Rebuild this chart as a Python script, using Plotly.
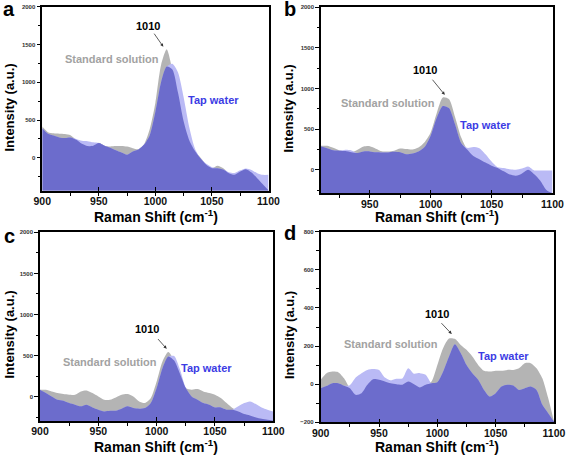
import numpy as np
import plotly.graph_objects as go

# ---------------- data ----------------
shift_a = [900, 905, 910, 915, 920, 925, 930, 935, 940, 945, 950, 955, 960, 965, 970, 975, 980, 985, 990, 995,
           1000, 1005, 1010, 1015, 1020, 1025, 1030, 1035, 1040, 1045, 1050, 1055, 1060, 1065, 1070, 1075, 1080,
           1085, 1090, 1095, 1100]
standard_a = [413, 340, 326, 320, 317, 300, 238, 185, 155, 160, 200, 160, 150, 155, 158, 150, 128, 115, 180, 380,
              730, 1230, 1436, 1170, 860, 480, 230, 90, 0, -92, -137, -106, -137, -203, -225, -181, -150,
              -194, -269, -348, -430]
tap_a = [392, 320, 295, 270, 262, 270, 250, 225, 220, 205, 195, 160, 135, 100, 70, 40, 83, 110, 175, 300,
         610, 1000, 1207, 1245, 1130, 800, 400, 120, -10, -80, -125, -137, -155, -190, -200, -165, -140,
         -160, -203, -225, -225]

shift_b = [910, 915, 920, 925, 930, 935, 940, 945, 950, 955, 960, 965, 970, 975, 980, 985, 990, 995,
           1000, 1005, 1010, 1015, 1020, 1025, 1030, 1035, 1040, 1045, 1050, 1055, 1060, 1065, 1070, 1075, 1080,
           1085, 1090, 1095, 1100]
standard_b = [295, 295, 270, 240, 230, 215, 246, 285, 290, 260, 228, 225, 235, 262, 255, 250, 275, 340,
              460, 700, 890, 870, 650, 400, 250, 170, 130, 88, 50, 22, -20, -60, -74, -45, 0,
              -55, -135, -250, -290]
tap_b = [285, 265, 240, 235, 245, 238, 205, 225, 225, 215, 213, 213, 222, 215, 190, 200, 225, 280,
         420, 640, 785, 760, 560, 330, 270, 280, 265, 190, 100, 30, 20, 5, 0, 15, 40,
         -8, -8, -8, -8]

shift_c = shift_a
standard_c = [85, 85, 65, 45, 32, 24, 24, 65, 77, 45, 4, -36, -36, -8, 24, 32, 4, -57, -77, -16,
              186, 429, 543, 440, 280, 105, 85, 93, 65, 45, 24, -16, -77, -138, -178, -210, -227,
              -251, -267, -279, -291]
tap_c = [85, 45, 4, -36, -49, -77, -97, -117, -97, -130, -158, -178, -170, -170, -146, -117, -138, -146, -138, -77,
         105, 348, 490, 495, 330, 105, 4, -36, -77, -97, -130, -130, -158, -158, -117, -77, -57,
         -89, -130, -158, -178]

shift_d = shift_a
standard_d = [23, 58, 66, 63, 31, -21, -56, -47, -3, 26, 23, 14, 5, 0, -3, 14, 0, -17, -3, 14,
              100, 190, 240, 238, 206, 180, 145, 101, 70, 66, 70, 70, 75, 75, 84, 110, 110,
              84, 31, -73, -196]
tap_d = [-21, -10, 5, 5, -8, -5, 35, 58, 75, 80, 75, 35, 20, 28, 30, 84, 55, 58, 49, 5,
         10, 66, 145, 210, 164, 101, 58, 23, -30, -65, -47, -12, -3, -7, -30, -21, -12,
         -30, -108, -152, -196]

peak_label = 1010

# ---------------- style ----------------
W, H = 567, 457
FONT = "Arial, Liberation Sans, sans-serif"
GRAY = "#b4b4b4"
LIGHT = "#babaf5"
DARK = "#6c6ccc"
STD_TXT = "#a2a2a2"
TAP_TXT = "#3c3ce4"


def px_x(p):
    return p / W


def px_y(p):
    return 1 - p / H


panels = [
    dict(s="", x=shift_a, std=standard_a, tap=tap_a, xr=[900, 1100], yr=[-435, 2000], dt=500,
         xd=(42.3, 268.5), yd=(6.7, 190.7), letter="a", lp=(9, 9),
         lab=(993.5, 1742), tail=(998, 1663), head=(1007, 1470), stdp=(962, 1303), tapp=(1051, 766),
         ytitle=(8.5, 108), xtitle=(155.5, 216.5)),
    dict(s="2", x=shift_b, std=standard_b, tap=tap_b, xr=[910, 1100], yr=[-290, 2000], dt=500,
         xd=(321, 552.5), yd=(7.3, 193.3), letter="b", lp=(290, 9),
         lab=(995, 1229), tail=(1000.5, 1127), head=(1011.6, 922), stdp=(964.7, 819), tapp=(1044.6, 553),
         ytitle=(288.5, 109), xtitle=(437, 216.5)),
    dict(s="3", x=shift_c, std=standard_c, tap=tap_c, xr=[900, 1100], yr=[-295, 2000], dt=500,
         xd=(40, 273.3), yd=(232.3, 421), letter="c", lp=(9, 236),
         lab=(991.4, 825), tail=(1000, 720), head=(1008.6, 583), stdp=(960, 428), tapp=(1043, 348),
         ytitle=(8.5, 335), xtitle=(155.5, 446)),
    dict(s="4", x=shift_d, std=standard_d, tap=tap_d, xr=[900, 1100], yr=[-200, 800], dt=200,
         xd=(320.7, 554), yd=(231.7, 422.3), letter="d", lp=(290, 233),
         lab=(999.4, 368), tail=(1002.3, 328), head=(1012.3, 263), stdp=(960.6, 211), tapp=(1056.6, 150),
         ytitle=(289, 335), xtitle=(437, 446)),
]

fig = go.Figure()
annotations = []
layout = {}

for p in panels:
    s = p["s"]
    xa, ya = "x" + s, "y" + s
    x = p["x"]
    ymin = p["yr"][0]
    base = [ymin] * len(x)
    low = np.minimum(np.array(p["std"]), np.array(p["tap"])).tolist()
    for yvals, col in [(p["std"], GRAY), (p["tap"], LIGHT), (low, DARK)]:
        fig.add_trace(go.Scatter(x=x, y=base, mode="lines", line=dict(width=0), xaxis=xa, yaxis=ya,
                                 hoverinfo="skip", showlegend=False))
        fig.add_trace(go.Scatter(x=x, y=yvals, mode="lines",
                                 line=dict(width=0, shape="spline", smoothing=0.7),
                                 fill="tonexty", fillcolor=col, xaxis=xa, yaxis=ya,
                                 hoverinfo="skip", showlegend=False))

    xkey = "xaxis" + s
    ykey = "yaxis" + s
    layout[xkey] = dict(
        domain=[px_x(p["xd"][0]), px_x(p["xd"][1])], anchor=ya, range=p["xr"], automargin=False,
        showline=True, linecolor="black", linewidth=1.6, mirror=True,
        ticks="inside", ticklen=4, tickwidth=1, tickcolor="black",
        tick0=900, dtick=50, showgrid=False, zeroline=False,
        minor=dict(ticks="outside", ticklen=3, tickwidth=1, tickcolor="black", dtick=25, tick0=900),
        tickfont=dict(family=FONT, size=10.5, color="#111", weight="bold"),
    )
    layout[ykey] = dict(
        domain=[px_y(p["yd"][1]), px_y(p["yd"][0])], anchor=xa, range=p["yr"], automargin=False,
        showline=True, linecolor="black", linewidth=1.6, mirror=True,
        ticks="outside", ticklen=4, tickwidth=1, tickcolor="black",
        tick0=0, dtick=p["dt"], showgrid=False, zeroline=False,
        minor=dict(ticks="outside", ticklen=2.5, tickwidth=1, tickcolor="black", dtick=p["dt"] / 2),
        tickfont=dict(family=FONT, size=6, color="#333", weight="bold"),
    )

    annotations.append(dict(x=p["lab"][0], y=p["lab"][1], xref=xa, yref=ya, text=str(peak_label),
                            showarrow=False, font=dict(family=FONT, size=11, color="black", weight="bold")))
    annotations.append(dict(x=p["head"][0], y=p["head"][1], ax=p["tail"][0], ay=p["tail"][1],
                            xref=xa, yref=ya, axref=xa, ayref=ya, text="", showarrow=True,
                            arrowhead=2, arrowsize=0.8, arrowwidth=0.8, arrowcolor="#333"))
    annotations.append(dict(x=p["stdp"][0], y=p["stdp"][1], xref=xa, yref=ya, text="Standard solution",
                            showarrow=False, font=dict(family=FONT, size=11, color=STD_TXT, weight="bold")))
    annotations.append(dict(x=p["tapp"][0], y=p["tapp"][1], xref=xa, yref=ya, text="Tap water",
                            showarrow=False, font=dict(family=FONT, size=11, color=TAP_TXT, weight="bold")))
    annotations.append(dict(x=px_x(p["lp"][0]), y=px_y(p["lp"][1]), xref="paper", yref="paper",
                            text=p["letter"], showarrow=False, xanchor="center", yanchor="middle",
                            font=dict(family=FONT, size=20, color="black", weight="bold")))
    annotations.append(dict(x=px_x(p["ytitle"][0]), y=px_y(p["ytitle"][1]), xref="paper", yref="paper",
                            text="Intensity (a.u.)", textangle=-90, showarrow=False,
                            xanchor="center", yanchor="middle",
                            font=dict(family=FONT, size=13, color="black", weight="bold")))
    annotations.append(dict(x=px_x(p["xtitle"][0]), y=px_y(p["xtitle"][1]), xref="paper", yref="paper",
                            text="Raman Shift (cm<sup>-1</sup>)", showarrow=False,
                            xanchor="center", yanchor="middle",
                            font=dict(family=FONT, size=14, color="black", weight="bold")))

fig.update_layout(
    width=W, height=H, margin=dict(l=0, r=0, t=0, b=0, autoexpand=False),
    paper_bgcolor="white", plot_bgcolor="white",
    showlegend=False, annotations=annotations, **layout,
)

fig.write_html("out.html", config={"displayModeBar": False},
               post_script="document.body.style.margin='0';document.body.style.overflow='hidden';")
